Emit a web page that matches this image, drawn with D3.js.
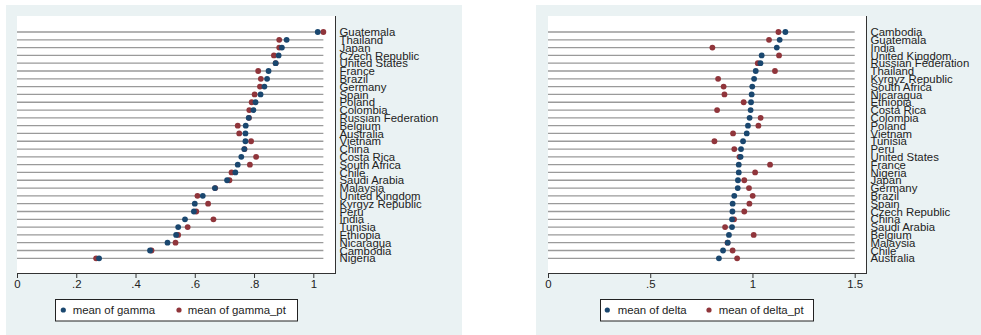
<!DOCTYPE html>
<html>
<head>
<meta charset="utf-8">
<script src="https://cdn.jsdelivr.net/npm/d3@7"></script>
<style>
  html, body { margin: 0; padding: 0; background: #ffffff; }
  svg { display: block; }
  text { font-family: "Liberation Sans", Arial, Helvetica, sans-serif; fill: #222; }
</style>
</head>
<body>
<svg id="chart" width="981" height="335"></svg>
<script>
// Country-level means of gamma and gamma_pt (sorted by gamma)
const gammaCountries = ["Guatemala","Thailand","Japan","Czech Republic","United States","France","Brazil","Germany","Spain","Poland","Colombia","Russian Federation","Belgium","Australia","Vietnam","China","Costa Rica","South Africa","Chile","Saudi Arabia","Malaysia","United Kingdom","Kyrgyz Republic","Peru","India","Tunisia","Ethiopia","Nicaragua","Cambodia","Nigeria"];
const gammaValues   = [1.015,0.910,0.894,0.883,0.873,0.849,0.844,0.835,0.822,0.805,0.798,0.782,0.772,0.771,0.771,0.767,0.757,0.745,0.737,0.709,0.668,0.627,0.600,0.597,0.567,0.544,0.537,0.508,0.449,0.277];
const gammaPtValues = [1.034,0.885,0.885,0.867,0.873,0.814,0.823,0.820,0.802,0.792,0.784,0.783,0.745,0.750,0.790,0.768,0.807,0.786,0.724,0.717,0.669,0.609,0.645,0.605,0.663,0.576,0.544,0.535,0.454,0.267];
const gammaTicks      = [0, 0.2, 0.4, 0.6, 0.8, 1];
const gammaTickLabels = ["0", ".2", ".4", ".6", ".8", "1"];

// Country-level means of delta and delta_pt (sorted by delta)
const deltaCountries = ["Cambodia","Guatemala","India","United Kingdom","Russian Federation","Thailand","Kyrgyz Republic","South Africa","Nicaragua","Ethiopia","Costa Rica","Colombia","Poland","Vietnam","Tunisia","Peru","United States","France","Nigeria","Japan","Germany","Brazil","Spain","Czech Republic","China","Saudi Arabia","Belgium","Malaysia","Chile","Australia"];
const deltaValues   = [1.161,1.133,1.119,1.045,1.039,1.016,1.008,0.999,0.996,0.993,0.991,0.986,0.978,0.972,0.954,0.944,0.942,0.933,0.933,0.929,0.928,0.911,0.903,0.902,0.900,0.900,0.885,0.879,0.856,0.836];
const deltaPtValues = [1.127,1.081,0.804,1.130,1.026,1.110,0.832,0.859,0.863,0.957,0.827,1.040,1.029,0.905,0.814,0.911,0.936,1.086,1.013,0.960,0.983,1.001,0.985,0.960,0.910,0.866,1.006,0.878,0.903,0.925];
const deltaTicks      = [0, 0.5, 1, 1.5];
const deltaTickLabels = ["0", ".5", "1", "1.5"];

const seriesColors = { main: "#1a476f", pt: "#90353b" };

const svg = d3.select("#chart");

function dotPanel(cfg) {
  const g = svg.append("g");
  const top = 16, bottom = 273;

  // panel background
  g.append("rect")
    .attr("x", cfg.bgX).attr("y", 5)
    .attr("width", cfg.bgW).attr("height", 330)
    .attr("fill", "#eaf2f3");

  // plot region
  g.append("rect")
    .attr("x", cfg.plotL).attr("y", top)
    .attr("width", cfg.plotR - cfg.plotL).attr("height", bottom - top)
    .attr("fill", "#ffffff");

  const x = d3.scaleLinear().domain([0, cfg.ticks[cfg.ticks.length - 1]]).range([cfg.plotL, cfg.tickEnd]);
  const y = d3.scalePoint().domain(cfg.countries).range([32, 258.3]);

  const lineMax = Math.max(d3.max(cfg.main), d3.max(cfg.pt), cfg.ticks[cfg.ticks.length - 1]);

  // dot lines
  g.append("g").selectAll("line")
    .data(cfg.countries)
    .join("line")
    .attr("x1", x(0)).attr("x2", x(lineMax))
    .attr("y1", d => y(d)).attr("y2", d => y(d))
    .attr("stroke", "#9a9a9a").attr("stroke-width", 1.3);

  // markers: second series underneath, first on top
  const rows = cfg.countries.map((c, i) => ({ c, main: cfg.main[i], pt: cfg.pt[i] }));
  g.append("g").selectAll("circle")
    .data(rows).join("circle")
    .attr("cx", d => x(d.pt)).attr("cy", d => y(d.c)).attr("r", 2.9)
    .attr("fill", seriesColors.pt);
  g.append("g").selectAll("circle")
    .data(rows).join("circle")
    .attr("cx", d => x(d.main)).attr("cy", d => y(d.c)).attr("r", 2.9)
    .attr("fill", seriesColors.main);

  // x axis
  const xAxis = d3.axisBottom(x)
    .tickValues(cfg.ticks)
    .tickFormat((d, i) => cfg.tickLabels[i])
    .tickSize(5).tickSizeOuter(0).tickPadding(2);
  const ax = g.append("g").attr("transform", `translate(0,${bottom})`).call(xAxis);
  ax.select(".domain").remove();
  ax.selectAll(".tick line").attr("stroke", "#333");
  ax.selectAll(".tick text").attr("font-size", 11.4).attr("fill", "#222")
    .attr("font-family", "Liberation Sans, Arial, sans-serif");
  g.append("line")
    .attr("x1", cfg.plotL).attr("x2", cfg.plotR + 0.5)
    .attr("y1", bottom + 0.5).attr("y2", bottom + 0.5)
    .attr("stroke", "#333").attr("stroke-width", 1);

  // category axis on the right
  const yAxis = d3.axisRight(y).tickSize(0).tickPadding(4.5);
  const ay = g.append("g").attr("transform", `translate(${cfg.plotR},0)`).call(yAxis);
  ay.select(".domain").remove();
  ay.selectAll(".tick text").attr("font-size", 11.4).attr("fill", "#222")
    .attr("font-family", "Liberation Sans, Arial, sans-serif");
  g.append("line")
    .attr("x1", cfg.plotR + 0.5).attr("x2", cfg.plotR + 0.5)
    .attr("y1", top).attr("y2", bottom + 1)
    .attr("stroke", "#333").attr("stroke-width", 1);

  // legend
  const lg = g.append("g");
  lg.append("rect")
    .attr("x", cfg.legX + 0.5).attr("y", 299.5)
    .attr("width", cfg.legW).attr("height", 21.5)
    .attr("fill", "#ffffff").attr("stroke", "#222").attr("stroke-width", 1);
  cfg.legItems.forEach(it => {
    lg.append("circle").attr("cx", it.mx).attr("cy", 310).attr("r", 2.6).attr("fill", it.color);
    lg.append("text").attr("x", it.tx).attr("y", 310).attr("dy", "0.35em")
      .attr("font-size", 11.4).text(it.label);
  });
}

dotPanel({
  bgX: 6, bgW: 456, plotL: 17, plotR: 335, tickEnd: 313.3,
  countries: gammaCountries, main: gammaValues, pt: gammaPtValues,
  ticks: gammaTicks, tickLabels: gammaTickLabels,
  legX: 55, legW: 242,
  legItems: [
    { mx: 63.3, tx: 72.7, color: seriesColors.main, label: "mean of gamma" },
    { mx: 179, tx: 187.7, color: seriesColors.pt, label: "mean of gamma_pt" }
  ]
});

dotPanel({
  bgX: 536, bgW: 445, plotL: 548, plotR: 866, tickEnd: 854.7,
  countries: deltaCountries, main: deltaValues, pt: deltaPtValues,
  ticks: deltaTicks, tickLabels: deltaTickLabels,
  legX: 600, legW: 213,
  legItems: [
    { mx: 607.3, tx: 617.7, color: seriesColors.main, label: "mean of delta" },
    { mx: 709, tx: 718.7, color: seriesColors.pt, label: "mean of delta_pt" }
  ]
});
</script>
</body>
</html>
